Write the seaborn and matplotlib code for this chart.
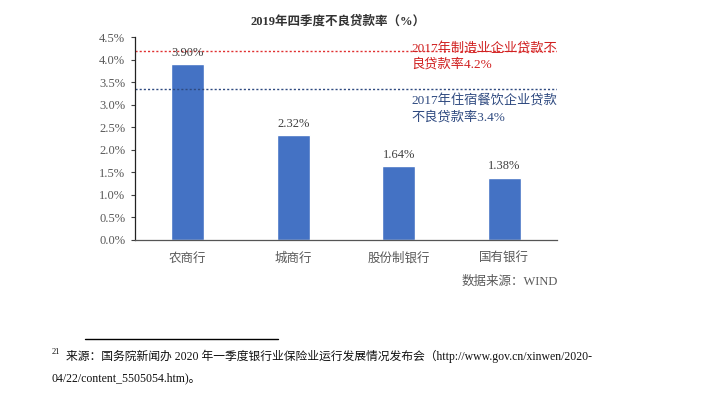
import matplotlib.pyplot as plt
import pandas as pd
import seaborn as sns
from matplotlib.ticker import FuncFormatter

# Data
banks = ['农商行', '城商行', '股份制银行', '国有银行']
npl_rates = [3.90, 2.32, 1.64, 1.38]
manuf_2017 = 4.2
catering_2017 = 3.35
y_ticks = [0.0, 0.5, 1.0, 1.5, 2.0, 2.5, 3.0, 3.5, 4.0, 4.5]

df = pd.DataFrame({'bank': banks, 'rate': npl_rates})

sns.set_theme(style='white')
plt.rcParams['font.family'] = ['Liberation Serif', 'Noto Sans CJK SC']
plt.rcParams['axes.unicode_minus'] = False

fig = plt.figure(figsize=(7.02, 3.98), dpi=100)
ax = fig.add_axes([0.1923, 0.397, 0.601, 0.510])

sns.barplot(data=df, x='bank', y='rate', color='#4472C4', width=0.31,
            saturation=1, ax=ax)

# value labels
for i, v in enumerate(npl_rates):
    ax.text(i, v + 0.12, f'{v:.2f}%', ha='center', va='bottom',
            fontsize=9, color='#404040')

# reference lines
ax.axhline(manuf_2017, color='#E03030', linestyle=(0, (1.5, 1.5)), linewidth=1)
ax.axhline(catering_2017, color='#2F4A80', linestyle=(0, (1.5, 1.5)), linewidth=1)
ax.text(2.12, 4.39, '2017年制造业企业贷款不\n良贷款率4.2%', color='#D02020',
        fontsize=9.5, va='top', linespacing=1.3)
ax.text(2.12, 3.23, '2017年住宿餐饮企业贷款\n不良贷款率3.4%', color='#2F4A80',
        fontsize=9.5, va='top', linespacing=1.3)

ax.set_xlim(-0.5, 3.5)
ax.set_ylim(0, 4.5)
ax.set_yticks(y_ticks)
ax.yaxis.set_major_formatter(FuncFormatter(lambda v, p: f'{v:.1f}%'))
ax.set_xlabel('')
ax.set_ylabel('')
ax.tick_params(axis='y', left=True, length=3, width=0.8, colors='#404040',
               labelsize=9, pad=4)
ax.tick_params(axis='x', bottom=False, labelsize=9, colors='#404040', pad=3)
for lbl in ax.get_yticklabels() + ax.get_xticklabels():
    lbl.set_color('#595959')
sns.despine(ax=ax)
ax.spines['left'].set_color('#222222')
ax.spines['bottom'].set_color('#555555')
ax.spines['left'].set_linewidth(0.9)
ax.spines['bottom'].set_linewidth(0.9)

ax.set_title('2019年四季度不良贷款率（%）', fontsize=9, fontweight='bold',
             color='#333333', pad=9, x=0.48)

fig.text(558 / 702, 1 - 282 / 398, '数据来源：WIND', ha='right', va='center',
         fontsize=9, color='#595959')

# footnote
fig.add_artist(plt.Line2D([85 / 702, 278 / 702], [1 - 339 / 398, 1 - 339 / 398],
                          color='black', linewidth=1))
fig.text(52 / 702, 1 - 352 / 398, '21', fontsize=6, va='center', color='#111111')
fig.text(66 / 702, 1 - 356 / 398,
         '来源：国务院新闻办 2020 年一季度银行业保险业运行发展情况发布会（http://www.gov.cn/xinwen/2020-',
         fontsize=8.5, va='center', color='#111111')
fig.text(52 / 702, 1 - 378 / 398, '04/22/content_5505054.htm)。',
         fontsize=8.5, va='center', color='#111111')

fig.savefig('out.png', dpi=100)
